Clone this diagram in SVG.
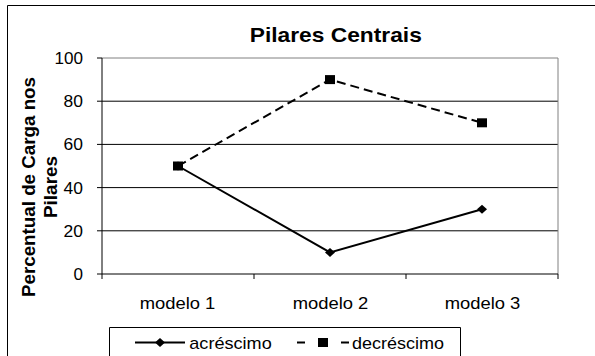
<svg xmlns="http://www.w3.org/2000/svg" width="595" height="356" viewBox="0 0 595 356">
<style>
text{font-family:"Liberation Sans",Arial,sans-serif;fill:#000}
.tick{font-size:17px}
.cat{font-size:17px}
.ttl{font-size:21px;font-weight:bold}
.ax{font-size:18px;font-weight:bold}
.grid{stroke:#000;stroke-width:1}
.frame{stroke:#808080;stroke-width:1;fill:none}
.s1{stroke:#000;stroke-width:2;fill:none}
.s2{stroke:#000;stroke-width:2;fill:none;stroke-dasharray:9 5}
</style>
<defs>
<path id="dia" d="M0,-4.5 L5,0 L0,4.5 L-5,0 Z" fill="#000"/>
<rect id="sq" x="-5" y="-4.5" width="10" height="9" fill="#000"/>
</defs>
<rect width="595" height="356" fill="#fff"/>
<g id="chart-border">
<path d="M7.5,356 V5.5 H595" fill="none" stroke="#000" stroke-width="1"/>
</g>
<g id="title"><text class="ttl" x="335.8" y="41.7" text-anchor="middle" textLength="172" lengthAdjust="spacingAndGlyphs">Pilares Centrais</text></g>
<g id="plot">
<path class="grid" d="M102,101.2 H558 M102,144.4 H558 M102,187.6 H558 M102,230.8 H558"/>
<path class="frame" d="M102,58 H558 V274"/>
<path d="M102,58 V274 H558 M97,58 H102 M97,101.2 H102 M97,144.4 H102 M97,187.6 H102 M97,230.8 H102 M97,274 H102 M102,274 V279 M254,274 V279 M406,274 V279 M558,274 V279" fill="none" stroke="#000" stroke-width="1"/>
</g>
<g id="y-labels">
<text class="tick" x="83" y="64" text-anchor="end" textLength="28.5" lengthAdjust="spacingAndGlyphs">100</text>
<text class="tick" x="83" y="107.2" text-anchor="end" textLength="19.4" lengthAdjust="spacingAndGlyphs">80</text>
<text class="tick" x="83" y="150.4" text-anchor="end" textLength="19.4" lengthAdjust="spacingAndGlyphs">60</text>
<text class="tick" x="83" y="193.6" text-anchor="end" textLength="19.4" lengthAdjust="spacingAndGlyphs">40</text>
<text class="tick" x="83" y="236.8" text-anchor="end" textLength="19.4" lengthAdjust="spacingAndGlyphs">20</text>
<text class="tick" x="83" y="280" text-anchor="end" textLength="9.5" lengthAdjust="spacingAndGlyphs">0</text>
</g>
<g id="y-title">
<text class="ax" transform="translate(35,187) rotate(-90)" text-anchor="middle" textLength="220" lengthAdjust="spacingAndGlyphs">Percentual de Carga nos</text>
<text class="ax" transform="translate(56.5,187) rotate(-90)" text-anchor="middle" textLength="62" lengthAdjust="spacingAndGlyphs">Pilares</text>
</g>
<g id="x-labels">
<text class="cat" x="177.5" y="309.3" text-anchor="middle" textLength="75.7" lengthAdjust="spacingAndGlyphs">modelo 1</text>
<text class="cat" x="330.5" y="309.3" text-anchor="middle" textLength="75.7" lengthAdjust="spacingAndGlyphs">modelo 2</text>
<text class="cat" x="482.5" y="309.3" text-anchor="middle" textLength="75.7" lengthAdjust="spacingAndGlyphs">modelo 3</text>
</g>
<g id="connectors">
<polyline id="acrescimo-line" class="s1" points="178,166 330,252.4 482,209.2"/>
<polyline id="decrescimo-line" class="s2" points="178,166 330,79.6 482,122.8"/>
</g>
<g id="markers">
<use href="#dia" x="178" y="166"/><use href="#dia" x="330" y="252.4"/><use href="#dia" x="482" y="209.2"/>
<use href="#sq" x="178" y="166"/><use href="#sq" x="330" y="79.6"/><use href="#sq" x="482" y="122.8"/>
</g>
<g id="legend">
<path d="M109.5,356 V327.5 H460.5 V356" fill="none" stroke="#000" stroke-width="1"/>
<line class="s1" x1="135" y1="342.5" x2="185" y2="342.5"/>
<use href="#dia" x="160" y="342.5"/>
<text class="cat" x="189.3" y="349.3" textLength="82.4" lengthAdjust="spacingAndGlyphs">acréscimo</text>
<path d="M297,342.5 H305 M341,342.5 H349" stroke="#000" stroke-width="2"/>
<use href="#sq" x="323" y="342.5"/>
<text class="cat" x="352" y="349.3" textLength="92" lengthAdjust="spacingAndGlyphs">decréscimo</text>
</g>
</svg>
